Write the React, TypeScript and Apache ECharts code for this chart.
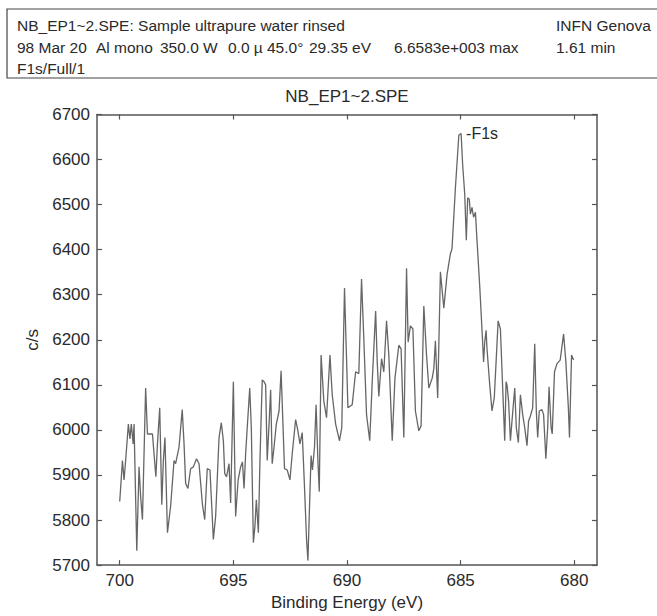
import React, { useEffect, useRef } from "react";
import * as echarts from "echarts";

// Binding energy (eV) and counts per second
const energy: number[] = [
  700.0, 699.88, 699.81, 699.74, 699.62, 699.55, 699.49, 699.41, 699.37, 699.25,
  699.15, 699.08, 699.0, 698.86, 698.78, 698.56, 698.41, 698.34, 698.24, 698.15,
  698.08, 698.01, 697.9, 697.76, 697.61, 697.54, 697.39, 697.25, 697.17, 697.1,
  697.0, 696.88, 696.76, 696.62, 696.51, 696.36, 696.26, 696.15, 696.03, 695.88,
  695.78, 695.63, 695.53, 695.44, 695.38, 695.3, 695.19, 695.12, 695.0, 694.9,
  694.79, 694.68, 694.6, 694.53, 694.46, 694.39, 694.28, 694.21, 694.12, 694.05,
  693.99, 693.9, 693.83, 693.73, 693.65, 693.58, 693.51, 693.43, 693.36, 693.29,
  693.21, 693.11, 692.99, 692.9,
  692.75, 692.63, 692.51, 692.41, 692.26, 692.16, 692.07, 691.97, 691.87, 691.78,
  691.72, 691.64, 691.58, 691.52, 691.43, 691.36, 691.28, 691.22, 691.14, 691.02,
  690.9, 690.75, 690.65, 690.5, 690.33, 690.23, 690.11, 690.02, 689.96, 689.77,
  689.62, 689.48, 689.36, 689.26, 689.14, 689.0, 688.89, 688.74, 688.67, 688.6,
  688.48, 688.38, 688.26, 688.16, 688.01, 687.89, 687.72, 687.62, 687.5, 687.38,
  687.31, 687.21, 687.1, 686.99, 686.84, 686.74, 686.62, 686.5, 686.4, 686.25,
  686.18, 686.11, 686.01,
  685.89, 685.74, 685.6, 685.45, 685.38, 685.23, 685.08, 684.98, 684.91, 684.82,
  684.75, 684.69, 684.62, 684.57, 684.5, 684.43, 684.35, 684.28, 684.16, 684.04,
  683.99, 683.94, 683.88, 683.84, 683.72, 683.62, 683.52, 683.44, 683.35, 683.25,
  683.15, 683.06, 683.0, 682.96, 682.89, 682.81, 682.74, 682.62, 682.55, 682.46,
  682.37, 682.27, 682.18, 682.08, 682.01, 681.93, 681.83, 681.74, 681.67, 681.61,
  681.54, 681.42, 681.35, 681.25, 681.17, 681.11, 681.02, 680.97, 680.87, 680.76,
  680.62, 680.47, 680.37, 680.26, 680.21, 680.12, 680.03,
];

const counts: number[] = [
  5841, 5932, 5889, 5932, 6013, 5980, 6013, 5969, 6013, 5732,
  5918, 5852, 5801, 6093, 5991, 5991, 5896, 5969, 6049, 5834,
  5932, 5983, 5772, 5831, 5932, 5925, 5962, 6045, 5969, 5881,
  5870, 5914, 5918, 5936, 5925, 5834, 5801, 5914, 5911, 5757,
  5808, 5983, 6016, 5976, 5903, 5896, 5925, 5838, 6107, 5808,
  5889, 5918, 5929, 5870, 5947, 6005, 6093, 6005, 5750, 5787,
  5845, 5772, 5932, 6111, 6107, 6100, 5932, 6013, 6089, 5925,
  5962, 6013, 6042, 6131,
  5914, 5911, 5889, 5947, 6023, 5998, 5969, 5994, 5874, 5757,
  5710, 5845, 5943, 5911, 5962, 6056, 5932, 5863, 6166, 6064,
  6027, 6166, 6078, 6013, 5976, 6005, 6315, 6158, 6049, 6056,
  6129, 6125, 6335, 6202, 6034, 5976, 6107, 6264, 6151, 6074,
  6158, 6129, 6242, 6166, 5976, 6115, 6188, 6180, 5983, 6359,
  6195, 6231, 6224, 6042, 5998, 6009, 6275, 6166, 6093, 6115,
  6136, 6198, 6071,
  6351, 6270, 6344, 6391, 6402, 6537, 6654, 6658, 6588, 6523,
  6421, 6515, 6512, 6479, 6494, 6472, 6483, 6421, 6319, 6203,
  6151, 6195, 6221, 6180, 6100, 6042, 6071, 6151, 6242, 6224,
  6093, 5976, 6107, 6100, 6064, 5976, 6020, 6093, 6005, 5972,
  6078, 6034, 6005, 5965, 6020, 6031, 6049, 6191, 6042, 5983,
  6042, 6045, 6034, 5936, 6005, 6096, 6005, 5991, 6129, 6147,
  6155, 6213, 6151, 6049, 5983, 6166, 6155,
];

const xTicks: number[] = [680, 685, 690, 695, 700];
const peakLabel = { energy: 684.98, counts: 6658, text: "-F1s" };

const headerRow1 = "NB_EP1~2.SPE: Sample ultrapure water rinsed";
const headerRow2: string[] = ["98 Mar 20", "Al mono", "350.0 W", "0.0 µ", "45.0°", "29.35 eV", "6.6583e+003 max"];
const headerRow2X: number[] = [17, 96, 160, 228, 267, 309, 394];
const headerRight: string[] = ["INFN Genova", "1.61 min"];
const headerRow3 = "F1s/Full/1";
const plotTitle = "NB_EP1~2.SPE";

const FONT = "'Liberation Sans', Arial, Helvetica, sans-serif";
const TXT = "#2a2a2a";
const AX = "#555";

export default function App() {
  const ref = useRef<HTMLDivElement>(null);
  useEffect(() => {
    document.body.style.margin = "0";
    if (!ref.current) return;
    const chart = echarts.init(ref.current, null, { renderer: "svg" });
    const data = energy.map((e, i) => [e, counts[i]]);

    const axisLineStyle = { color: AX, width: 1.5 };
    const baseX = {
      type: "value",
      min: 679,
      max: 701,
      inverse: true,
      axisLine: { show: true, onZero: false, lineStyle: axisLineStyle },
      splitLine: { show: false },
    };
    const baseY = {
      type: "value",
      min: 5700,
      max: 6700,
      interval: 100,
      axisLine: { show: true, onZero: false, lineStyle: axisLineStyle },
      splitLine: { show: false },
    };

    const textStyle = (s: number) => ({ fontSize: s, fontFamily: FONT, fill: TXT });
    const HS = 15.5;

    const option: any = {
      animation: false,
      backgroundColor: "#ffffff",
      textStyle: { fontFamily: FONT },
      grid: { left: 97, top: 114.5, width: 500, height: 457.5, containLabel: false },
      xAxis: [
        {
          ...baseX,
          position: "bottom",
          name: "Binding Energy (eV)",
          nameLocation: "middle",
          nameGap: 25,
          nameTextStyle: { fontSize: 17, color: TXT, fontFamily: FONT },
          axisTick: { show: true, inside: true, length: 5, customValues: xTicks, lineStyle: { color: AX, width: 1.2 } },
          axisLabel: {
            show: true,
            customValues: xTicks,
            fontSize: 17,
            color: TXT,
            margin: 7,
            fontFamily: FONT,
            formatter: (v: number) => String(v),
          },
        },
        {
          ...baseX,
          position: "top",
          axisTick: { show: true, inside: true, length: 5, customValues: xTicks, lineStyle: { color: AX, width: 1.2 } },
          axisLabel: { show: false },
        },
      ],
      yAxis: [
        {
          ...baseY,
          position: "left",
          name: "c/s",
          nameLocation: "middle",
          nameGap: 46,
          nameTextStyle: { fontSize: 17, color: TXT, fontFamily: FONT },
          axisTick: { show: true, inside: true, length: 5, lineStyle: { color: AX, width: 1.2 } },
          axisLabel: {
            show: true,
            fontSize: 17,
            color: TXT,
            margin: 7,
            fontFamily: FONT,
            formatter: (v: number) => String(v),
          },
        },
        {
          ...baseY,
          position: "right",
          axisTick: { show: true, inside: true, length: 5, lineStyle: { color: AX, width: 1.2 } },
          axisLabel: { show: false },
        },
      ],
      series: [
        {
          type: "line",
          xAxisIndex: 0,
          yAxisIndex: 0,
          data,
          showSymbol: false,
          symbol: "none",
          lineStyle: { color: "#666", width: 1.3 },
          markPoint: {
            symbol: "circle",
            symbolSize: 0,
            silent: true,
            data: [{ coord: [peakLabel.energy, peakLabel.counts] }],
            label: {
              show: true,
              position: "right",
              distance: 5,
              formatter: peakLabel.text,
              fontSize: 16,
              color: TXT,
              fontFamily: FONT,
            },
          },
        },
      ],
      graphic: [
        {
          type: "rect",
          shape: { x: 7, y: 9, width: 660, height: 69 },
          style: { fill: "none", stroke: "#444", lineWidth: 1.2 },
        },
        { type: "text", x: 17, y: 25, style: { text: headerRow1, ...textStyle(HS), verticalAlign: "middle" } },
        ...headerRow2.map((t, i) => ({
          type: "text",
          x: headerRow2X[i],
          y: 47,
          style: { text: t, ...textStyle(HS), verticalAlign: "middle" },
        })),
        { type: "text", x: 556, y: 25, style: { text: headerRight[0], ...textStyle(HS), verticalAlign: "middle" } },
        { type: "text", x: 556, y: 47, style: { text: headerRight[1], ...textStyle(HS), verticalAlign: "middle" } },
        { type: "text", x: 17, y: 68, style: { text: headerRow3, ...textStyle(HS), verticalAlign: "middle" } },
        {
          type: "text",
          x: 347,
          y: 96,
          style: { text: plotTitle, ...textStyle(17), align: "center", verticalAlign: "middle" },
        },
      ],
    };
    chart.setOption(option);
    return () => chart.dispose();
  }, []);
  return (
    <div
      ref={ref}
      style={{ position: "fixed", left: 0, top: 0, width: 657, height: 616, background: "#fff" }}
    />
  );
}
